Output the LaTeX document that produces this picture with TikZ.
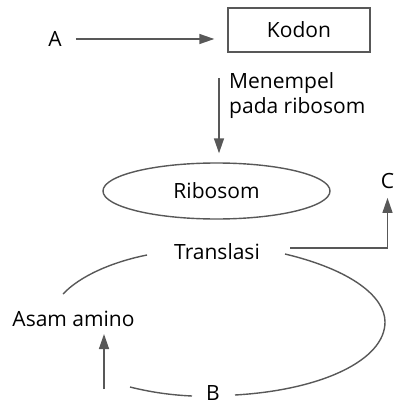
\documentclass[tikz,border=0pt]{standalone}
\usepackage{fontspec}
\setmainfont{Open Sans}
\usetikzlibrary{arrows.meta,shapes.geometric}
\definecolor{linegray}{RGB}{88,88,88}
\tikzset{
  lbl/.style={inner sep=0pt, text=black, font=\fontsize{21}{25}\selectfont},
  arr/.style={draw=linegray, line width=1.4pt, -{Triangle[length=15pt,width=10pt]}},
  ln/.style={draw=linegray, line width=1.4pt},
}
\begin{document}
\begin{tikzpicture}[x=1pt,y=-1pt]
\useasboundingbox (0,0) rectangle (395,404);
\node[lbl] (A) at (55,39) {A};
\node[lbl, draw=linegray, line width=1.4pt, minimum width=142pt, minimum height=44pt] (kodon) at (299,30) {Kodon};
\node[lbl, align=left, anchor=west] (menempel) at (229,96) {Menempel\\pada ribosom};
\node[lbl, draw=linegray, line width=1.4pt, ellipse, minimum width=227pt, minimum height=56pt] (ribo) at (216.5,191) {Ribosom};
\node[lbl] (C) at (387.5,181) {C};
\node[lbl] (trans) at (217,252) {Translasi};
\node[lbl] (asam) at (73.5,319) {Asam amino};
\node[lbl] (B) at (213,392.5) {B};
\coordinate (v1) at (219,78);
\coordinate (t1) at (290,248);
\coordinate (b0) at (104,389);
% connectors
\draw[arr, shorten <=14pt, shorten >=13pt] (A) -- (A -| kodon.west);
\draw[arr, shorten >=9pt] (v1) -- (v1 |- ribo.north);
\draw[arr, shorten >=9pt] (t1) -| (C.south);
\draw[arr, shorten >=7pt] (b0) -- (b0 |- asam.south);
% loop
\draw[ln] (147,255) .. controls (112,262) and (80,276) .. (63,294);
\draw[ln] (285,254) .. controls (352,270) and (385,297) .. (385,322)
                    .. controls (385,360) and (322,390) .. (235,395);
\draw[ln] (130,387) .. controls (150,392) and (170,395) .. (192,396);
\end{tikzpicture}
\end{document}
